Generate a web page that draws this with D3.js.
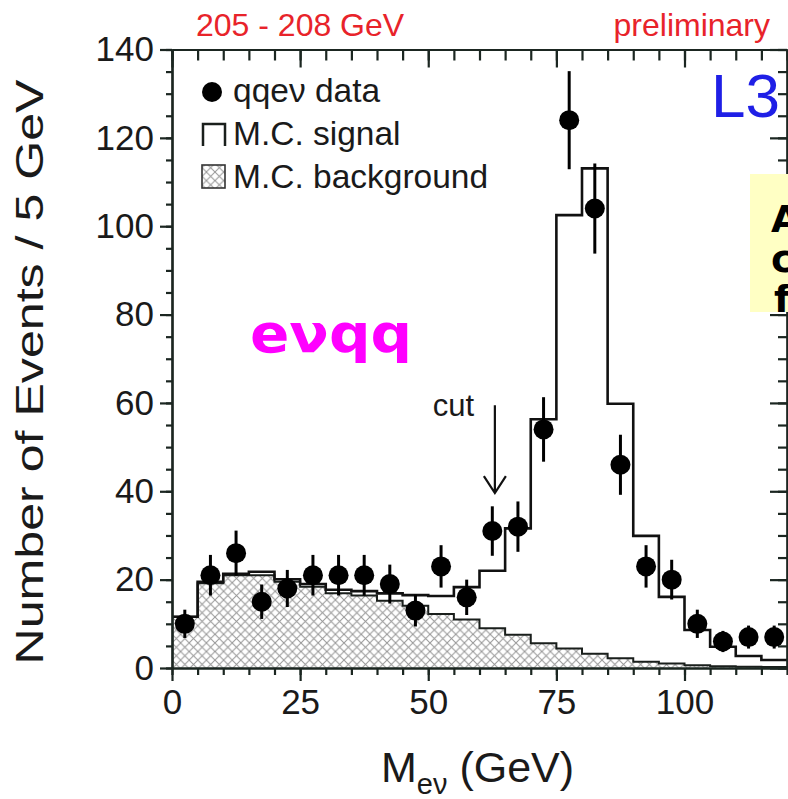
<!DOCTYPE html>
<html>
<head>
<meta charset="utf-8">
<script src="https://d3js.org/d3.v7.min.js"></script>
<style>
  body { margin: 0; background: #fff; }
  svg { display: block; }
  .axis path, .axis line { stroke: #1b2621; stroke-width: 2.2; }
  .axis text { font-family: "Liberation Sans", Arial, sans-serif; font-size: 35px; fill: #1a1a1a; }
  .lbl { font-family: "Liberation Sans", Arial, sans-serif; }
</style>
</head>
<body>
<svg width="788" height="799"></svg>
<script>
// 5 GeV bins, lower edges
const binLow = [0, 5, 10, 15, 20, 25, 30, 35, 40, 45, 50, 55, 60, 65, 70, 75, 80, 85, 90, 95, 100, 105, 110, 115];
const binCenter = [2.5, 7.5, 12.5, 17.5, 22.5, 27.5, 32.5, 37.5, 42.5, 47.5, 52.5, 57.5, 62.5, 67.5, 72.5, 77.5, 82.5, 87.5, 92.5, 97.5, 102.5, 107.5, 112.5, 117.5];

// qqev data points and errors
const dataCounts = [10, 21, 26, 15, 18, 21, 21, 21, 19, 13, 23, 16, 31, 32, 54, 124, 104, 46, 23, 20, 10, 6, 7, 7];
const dataErrors = [3.2, 4.6, 5.1, 3.9, 4.2, 4.6, 4.6, 4.6, 4.4, 3.6, 4.8, 4.0, 5.6, 5.7, 7.3, 11.1, 10.2, 6.8, 4.8, 4.5, 3.2, 2.4, 2.6, 2.6];

// M.C. signal (total) and M.C. background
const mcSignal = [11.6, 19.5, 21.3, 21.8, 20.1, 19.0, 17.7, 17.4, 16.9, 16.5, 16.3, 18.3, 22.0, 31.6, 56.3, 102.5, 113.1, 59.8, 29.9, 16.1, 8.6, 4.8, 2.7, 1.8];
const mcBackground = [11.6, 19.2, 21.0, 21.0, 19.5, 18.4, 16.9, 16.4, 15.2, 14.1, 12.2, 11.0, 9.0, 7.5, 5.6, 4.4, 3.2, 2.2, 1.4, 1.0, 0.6, 0.4, 0.3, 0.2];

const xMajor = [0, 25, 50, 75, 100];
const yMajor = [0, 20, 40, 60, 80, 100, 120, 140];
const cutAt = 63, cutArrowTop = 59.5, cutArrowTip = 39.6;

const svg = d3.select("svg"),
  margin = {top: 49.5, right: 1, bottom: 131, left: 172},
  width = +svg.attr("width") - margin.left - margin.right,
  height = +svg.attr("height") - margin.top - margin.bottom,
  g = svg.append("g").attr("transform", `translate(${margin.left},${margin.top})`);

const x = d3.scaleLinear().domain([0, 120]).range([0, width]);
const y = d3.scaleLinear().domain([0, 140]).range([height, 0]);

// hatch pattern
const defs = svg.append("defs");
const pat = defs.append("pattern")
  .attr("id", "hatch").attr("patternUnits", "userSpaceOnUse")
  .attr("width", 8.6).attr("height", 8.6);
pat.append("rect").attr("width", 8.6).attr("height", 8.6).attr("fill", "#fff");
pat.append("path").attr("d", "M0,0L8.6,8.6M8.6,0L0,8.6")
  .attr("stroke", "#969696").attr("stroke-width", 1);

// step points
function steps(vals) {
  const pts = binLow.map((b, i) => ({x: b, v: vals[i]}));
  pts.push({x: 120, v: vals[vals.length - 1]});
  return pts;
}

g.append("path")
  .datum(steps(mcBackground))
  .attr("fill", "url(#hatch)")
  .attr("d", d3.area().curve(d3.curveStepAfter)
    .x(d => x(d.x)).y0(y(0)).y1(d => y(d.v)));

g.append("path")
  .datum(steps(mcBackground))
  .attr("fill", "none").attr("stroke", "#1a1f1c").attr("stroke-width", 2)
  .attr("d", d3.line().curve(d3.curveStepAfter).x(d => x(d.x)).y(d => y(d.v)));

g.append("path")
  .datum(steps(mcSignal))
  .attr("fill", "none").attr("stroke", "#111").attr("stroke-width", 2.6)
  .attr("d", d3.line().curve(d3.curveStepAfter).x(d => x(d.x)).y(d => y(d.v)));

// axes
const xMinor = d3.range(0, 121, 5), yMinor = d3.range(0, 141, 5);

g.append("g").attr("class", "axis").attr("transform", `translate(0,${height})`)
  .call(d3.axisBottom(x).tickValues(xMinor).tickSize(7).tickSizeOuter(0).tickFormat(""));
g.append("g").attr("class", "axis").attr("transform", `translate(0,${height})`)
  .call(d3.axisBottom(x).tickValues(xMajor).tickSize(13).tickSizeOuter(0).tickPadding(8));
g.append("g").attr("class", "axis")
  .call(d3.axisTop(x).tickValues(xMinor).tickSize(-11).tickSizeOuter(0).tickFormat(""));
g.append("g").attr("class", "axis")
  .call(d3.axisTop(x).tickValues(xMajor).tickSize(-18).tickSizeOuter(0).tickFormat(""));

g.append("g").attr("class", "axis")
  .call(d3.axisLeft(y).tickValues(yMinor).tickSize(6).tickSizeOuter(0).tickFormat(""));
g.append("g").attr("class", "axis")
  .call(d3.axisLeft(y).tickValues(yMajor).tickSize(12).tickSizeOuter(0).tickPadding(6));
g.append("g").attr("class", "axis").attr("transform", `translate(${width},0)`)
  .call(d3.axisRight(y).tickValues(yMinor).tickSize(-9).tickSizeOuter(0).tickFormat(""));
g.append("g").attr("class", "axis").attr("transform", `translate(${width},0)`)
  .call(d3.axisRight(y).tickValues(yMajor).tickSize(-17).tickSizeOuter(0).tickFormat(""));

// data points
const pts = g.append("g");
pts.selectAll("line")
  .data(binCenter)
  .enter().append("line")
  .attr("x1", d => x(d)).attr("x2", d => x(d))
  .attr("y1", (d, i) => y(dataCounts[i] - dataErrors[i]))
  .attr("y2", (d, i) => y(dataCounts[i] + dataErrors[i]))
  .attr("stroke", "#000").attr("stroke-width", 3);
pts.selectAll("circle")
  .data(binCenter)
  .enter().append("circle")
  .attr("cx", d => x(d)).attr("cy", (d, i) => y(dataCounts[i]))
  .attr("r", 10).attr("fill", "#000");

// cut arrow
const cx = x(cutAt);
g.append("path")
  .attr("d", `M${cx},${y(cutArrowTop)}V${y(cutArrowTip)}M${cx - 11},${y(cutArrowTip) - 17}L${cx},${y(cutArrowTip)}L${cx + 11},${y(cutArrowTip) - 17}`)
  .attr("fill", "none").attr("stroke", "#111").attr("stroke-width", 2.2);
svg.append("text").attr("class", "lbl")
  .attr("x", 474).attr("y", 416).attr("text-anchor", "end")
  .attr("font-size", 31).attr("fill", "#1a1a1a").text("cut");

// legend
svg.append("circle").attr("cx", 212).attr("cy", 92).attr("r", 10).attr("fill", "#000");
svg.append("path").attr("d", "M203,146V124H225V146")
  .attr("fill", "none").attr("stroke", "#1a1f1c").attr("stroke-width", 2.5);
svg.append("rect").attr("x", 202).attr("y", 165).attr("width", 23).attr("height", 23)
  .attr("fill", "url(#hatch)").attr("stroke", "#333").attr("stroke-width", 1.6);
const legendText = ["qqe\u03bd data", "M.C. signal", "M.C. background"];
svg.selectAll(".leg")
  .data(legendText)
  .enter().append("text")
  .attr("class", "lbl")
  .attr("x", 233).attr("y", (d, i) => 102 + i * 43)
  .attr("font-size", 33.5).attr("fill", "#1a1a1a")
  .text(d => d);

// titles
svg.append("text").attr("class", "lbl")
  .attr("transform", "translate(43,372) rotate(-90)")
  .attr("text-anchor", "middle").attr("font-size", 38).attr("fill", "#1a1a1a")
  .attr("textLength", 585).attr("lengthAdjust", "spacingAndGlyphs")
  .text("Number of Events / 5 GeV");

const xt = svg.append("text").attr("class", "lbl")
  .attr("x", 381).attr("y", 782).attr("font-size", 43).attr("fill", "#1a1a1a");
xt.append("tspan").text("M");
xt.append("tspan").attr("font-size", 29).attr("dy", 12).text("e\u03bd");
xt.append("tspan").attr("dy", -12).text(" (GeV)");

svg.append("text").attr("class", "lbl")
  .attr("x", 196).attr("y", 36).attr("font-size", 32).attr("fill", "#e8232a")
  .text("205 - 208 GeV");
svg.append("text").attr("class", "lbl")
  .attr("x", 770).attr("y", 36).attr("text-anchor", "end")
  .attr("font-size", 32).attr("fill", "#e8232a")
  .text("preliminary");

svg.append("text").attr("class", "lbl")
  .attr("x", 711).attr("y", 117).attr("font-size", 62).attr("fill", "#1f1fe6")
  .text("L3");

svg.append("text")
  .attr("x", 250).attr("y", 352)
  .attr("font-family", "'Comic Sans MS', 'DejaVu Sans', sans-serif")
  .attr("font-weight", "bold").attr("font-size", 54).attr("fill", "#ff00ff")
  .attr("textLength", 162).attr("lengthAdjust", "spacingAndGlyphs")
  .text("e\u03bdqq");

// yellow note box, cut by the page edge
svg.append("rect").attr("x", 750).attr("y", 174).attr("width", 40).attr("height", 138)
  .attr("fill", "#ffffc4");
const note = ["A", "c", "f"];
svg.selectAll(".note")
  .data(note)
  .enter().append("text")
  .attr("x", (d, i) => i === 2 ? 774 : 771)
  .attr("y", (d, i) => 232 + i * 40)
  .attr("font-family", "'Comic Sans MS', 'DejaVu Sans', sans-serif")
  .attr("font-weight", "bold").attr("font-size", 38).attr("fill", "#000")
  .text(d => d);
</script>
</body>
</html>
